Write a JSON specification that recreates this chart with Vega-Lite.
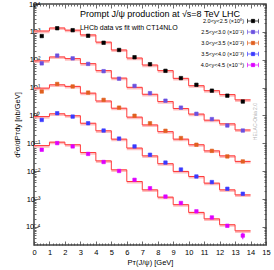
{
"$schema":"https://vega.github.io/schema/vega-lite/v6.json",
"width":232,"height":241,
"autosize":{"type":"none"},
"padding":{"left":34,"top":4,"right":8,"bottom":25},
"background":"white",
"config":{
 "view":{"stroke":"#444","strokeWidth":1.5},
 "font":"Liberation Sans",
 "axis":{"labelFont":"Liberation Sans","labelFontSize":7.5,"labelColor":"#000","titleFont":"Liberation Sans","titleFontSize":7.5,"titleFontWeight":"normal","titleColor":"#000","domain":false,"grid":false,"tickColor":"#444","tickWidth":0.8,"labelOverlap":false,"labelFlush":false,"labelBound":false},
 "legend":{"orient":"none","legendX":213,"legendY":11,"padding":0,"labelFont":"Liberation Sans","labelFontSize":5.5,"labelColor":"#000","labelAlign":"right","labelOffset":-15,"symbolType":"M-1,0H1M-1,-0.4V0.4M1,-0.4V0.4M-0.3,-0.3H0.3V0.3H-0.3Z","symbolSize":121,"symbolStrokeWidth":0.7,"rowPadding":1,"labelLimit":0}
},
"datasets":{
"fit":[
{"g":"A","x":0,"f":1072,"lo":900,"hi":1126},{"g":"A","x":1,"f":1380,"lo":1159,"hi":1449},{"g":"A","x":2,"f":1148,"lo":964,"hi":1205},{"g":"A","x":3,"f":776,"lo":652,"hi":815},{"g":"A","x":4,"f":427,"lo":359,"hi":448},{"g":"A","x":5,"f":224,"lo":188,"hi":235},{"g":"A","x":6,"f":115,"lo":96.6,"hi":121},{"g":"A","x":7,"f":64.6,"lo":54.3,"hi":67.8},{"g":"A","x":8,"f":40.7,"lo":34.2,"hi":42.7},{"g":"A","x":9,"f":21.4,"lo":18.0,"hi":22.5},{"g":"A","x":10,"f":11.7,"lo":9.83,"hi":12.3},{"g":"A","x":11,"f":7.76,"lo":6.52,"hi":8.15},{"g":"A","x":12,"f":5.62,"lo":4.72,"hi":5.9},{"g":"A","x":13,"f":3.63,"lo":3.05,"hi":3.81},{"g":"A","x":14,"f":3.63,"lo":3.05,"hi":3.81},
{"g":"B","x":0,"f":91.2,"lo":76.6,"hi":95.8},{"g":"B","x":1,"f":126,"lo":106,"hi":132},{"g":"B","x":2,"f":110,"lo":92.4,"hi":116},{"g":"B","x":3,"f":72.4,"lo":60.8,"hi":76.0},{"g":"B","x":4,"f":40.7,"lo":34.2,"hi":42.7},{"g":"B","x":5,"f":21.9,"lo":18.4,"hi":23.0},{"g":"B","x":6,"f":10.2,"lo":8.57,"hi":10.7},{"g":"B","x":7,"f":5.75,"lo":4.83,"hi":6.04},{"g":"B","x":8,"f":3.16,"lo":2.65,"hi":3.32},{"g":"B","x":9,"f":1.78,"lo":1.5,"hi":1.87},{"g":"B","x":10,"f":1.12,"lo":0.941,"hi":1.18},{"g":"B","x":11,"f":0.676,"lo":0.568,"hi":0.71},{"g":"B","x":12,"f":0.501,"lo":0.421,"hi":0.526},{"g":"B","x":13,"f":0.302,"lo":0.254,"hi":0.317},{"g":"B","x":14,"f":0.302,"lo":0.254,"hi":0.317},
{"g":"C","x":0,"f":9.55,"lo":8.02,"hi":10.0},{"g":"C","x":1,"f":12.6,"lo":10.6,"hi":13.2},{"g":"C","x":2,"f":11.0,"lo":9.24,"hi":11.6},{"g":"C","x":3,"f":6.31,"lo":5.3,"hi":6.63},{"g":"C","x":4,"f":3.31,"lo":2.78,"hi":3.48},{"g":"C","x":5,"f":1.82,"lo":1.53,"hi":1.91},{"g":"C","x":6,"f":0.871,"lo":0.732,"hi":0.915},{"g":"C","x":7,"f":0.457,"lo":0.384,"hi":0.48},{"g":"C","x":8,"f":0.263,"lo":0.221,"hi":0.276},{"g":"C","x":9,"f":0.141,"lo":0.118,"hi":0.148},{"g":"C","x":10,"f":0.0891,"lo":0.0748,"hi":0.0936},{"g":"C","x":11,"f":0.0537,"lo":0.0451,"hi":0.0564},{"g":"C","x":12,"f":0.0355,"lo":0.0298,"hi":0.0373},{"g":"C","x":13,"f":0.0224,"lo":0.0188,"hi":0.0235},{"g":"C","x":14,"f":0.0224,"lo":0.0188,"hi":0.0235},
{"g":"D","x":0,"f":0.912,"lo":0.766,"hi":0.958},{"g":"D","x":1,"f":1.15,"lo":0.966,"hi":1.21},{"g":"D","x":2,"f":0.977,"lo":0.821,"hi":1.03},{"g":"D","x":3,"f":0.525,"lo":0.441,"hi":0.551},{"g":"D","x":4,"f":0.282,"lo":0.237,"hi":0.296},{"g":"D","x":5,"f":0.141,"lo":0.118,"hi":0.148},{"g":"D","x":6,"f":0.0676,"lo":0.0568,"hi":0.071},{"g":"D","x":7,"f":0.0355,"lo":0.0298,"hi":0.0373},{"g":"D","x":8,"f":0.0186,"lo":0.0156,"hi":0.0195},{"g":"D","x":9,"f":0.00977,"lo":0.00821,"hi":0.0103},{"g":"D","x":10,"f":0.00646,"lo":0.00543,"hi":0.00678},{"g":"D","x":11,"f":0.00372,"lo":0.00312,"hi":0.00391},{"g":"D","x":12,"f":0.00214,"lo":0.0018,"hi":0.00225},{"g":"D","x":13,"f":0.00141,"lo":0.00118,"hi":0.00148},{"g":"D","x":14,"f":0.00141,"lo":0.00118,"hi":0.00148},
{"g":"E","x":0,"f":0.0832,"lo":0.0699,"hi":0.0874},{"g":"E","x":1,"f":0.11,"lo":0.0924,"hi":0.1155},{"g":"E","x":2,"f":0.0891,"lo":0.0748,"hi":0.0936},{"g":"E","x":3,"f":0.0468,"lo":0.0393,"hi":0.0491},{"g":"E","x":4,"f":0.0234,"lo":0.0197,"hi":0.0246},{"g":"E","x":5,"f":0.0112,"lo":0.00941,"hi":0.0118},{"g":"E","x":6,"f":0.00427,"lo":0.00359,"hi":0.00448},{"g":"E","x":7,"f":0.00214,"lo":0.0018,"hi":0.00225},{"g":"E","x":8,"f":0.00117,"lo":0.000983,"hi":0.00123},{"g":"E","x":9,"f":0.000631,"lo":0.00053,"hi":0.000663},{"g":"E","x":10,"f":0.000331,"lo":0.000278,"hi":0.000348},{"g":"E","x":11,"f":0.000195,"lo":0.000164,"hi":0.000205},{"g":"E","x":12,"f":0.00012,"lo":0.000101,"hi":0.000126},{"g":"E","x":13,"f":0.0000724,"lo":0.0000608,"hi":0.000076},{"g":"E","x":14,"f":0.0000724,"lo":0.0000608,"hi":0.000076}
],
"pts":[
{"s":"2.0<y<2.5 (×10⁰)","pt":0.5,"v":708},{"s":"2.0<y<2.5 (×10⁰)","pt":1.5,"v":1349},{"s":"2.0<y<2.5 (×10⁰)","pt":2.5,"v":1148},{"s":"2.0<y<2.5 (×10⁰)","pt":3.5,"v":724},{"s":"2.0<y<2.5 (×10⁰)","pt":4.5,"v":407},{"s":"2.0<y<2.5 (×10⁰)","pt":5.5,"v":224},{"s":"2.0<y<2.5 (×10⁰)","pt":6.5,"v":123},{"s":"2.0<y<2.5 (×10⁰)","pt":7.5,"v":69},{"s":"2.0<y<2.5 (×10⁰)","pt":8.5,"v":40},{"s":"2.0<y<2.5 (×10⁰)","pt":9.5,"v":21.9},{"s":"2.0<y<2.5 (×10⁰)","pt":10.5,"v":12.6},{"s":"2.0<y<2.5 (×10⁰)","pt":11.5,"v":7.76},{"s":"2.0<y<2.5 (×10⁰)","pt":12.5,"v":5.13},{"s":"2.0<y<2.5 (×10⁰)","pt":13.5,"v":3.16},
{"s":"2.5<y<3.0 (×10⁻¹)","pt":0.5,"v":74.1},{"s":"2.5<y<3.0 (×10⁻¹)","pt":1.5,"v":141},{"s":"2.5<y<3.0 (×10⁻¹)","pt":2.5,"v":112},{"s":"2.5<y<3.0 (×10⁻¹)","pt":3.5,"v":70.8},{"s":"2.5<y<3.0 (×10⁻¹)","pt":4.5,"v":38.9},{"s":"2.5<y<3.0 (×10⁻¹)","pt":5.5,"v":20.9},{"s":"2.5<y<3.0 (×10⁻¹)","pt":6.5,"v":11.5},{"s":"2.5<y<3.0 (×10⁻¹)","pt":7.5,"v":6.31},{"s":"2.5<y<3.0 (×10⁻¹)","pt":8.5,"v":3.39},{"s":"2.5<y<3.0 (×10⁻¹)","pt":9.5,"v":1.91},{"s":"2.5<y<3.0 (×10⁻¹)","pt":10.5,"v":1.15},{"s":"2.5<y<3.0 (×10⁻¹)","pt":11.5,"v":0.741},{"s":"2.5<y<3.0 (×10⁻¹)","pt":12.5,"v":0.437},{"s":"2.5<y<3.0 (×10⁻¹)","pt":13.5,"v":0.288},
{"s":"3.0<y<3.5 (×10⁻²)","pt":0.5,"v":7.24},{"s":"3.0<y<3.5 (×10⁻²)","pt":1.5,"v":13.5},{"s":"3.0<y<3.5 (×10⁻²)","pt":2.5,"v":11.0},{"s":"3.0<y<3.5 (×10⁻²)","pt":3.5,"v":6.61},{"s":"3.0<y<3.5 (×10⁻²)","pt":4.5,"v":3.63},{"s":"3.0<y<3.5 (×10⁻²)","pt":5.5,"v":1.91},{"s":"3.0<y<3.5 (×10⁻²)","pt":6.5,"v":0.977},{"s":"3.0<y<3.5 (×10⁻²)","pt":7.5,"v":0.525},{"s":"3.0<y<3.5 (×10⁻²)","pt":8.5,"v":0.282},{"s":"3.0<y<3.5 (×10⁻²)","pt":9.5,"v":0.155},{"s":"3.0<y<3.5 (×10⁻²)","pt":10.5,"v":0.0891},{"s":"3.0<y<3.5 (×10⁻²)","pt":11.5,"v":0.0537},{"s":"3.0<y<3.5 (×10⁻²)","pt":12.5,"v":0.0339},{"s":"3.0<y<3.5 (×10⁻²)","pt":13.5,"v":0.0224},
{"s":"3.5<y<4.0 (×10⁻³)","pt":0.5,"v":0.692},{"s":"3.5<y<4.0 (×10⁻³)","pt":1.5,"v":1.2},{"s":"3.5<y<4.0 (×10⁻³)","pt":2.5,"v":0.912},{"s":"3.5<y<4.0 (×10⁻³)","pt":3.5,"v":0.525},{"s":"3.5<y<4.0 (×10⁻³)","pt":4.5,"v":0.288},{"s":"3.5<y<4.0 (×10⁻³)","pt":5.5,"v":0.148},{"s":"3.5<y<4.0 (×10⁻³)","pt":6.5,"v":0.0776},{"s":"3.5<y<4.0 (×10⁻³)","pt":7.5,"v":0.0389},{"s":"3.5<y<4.0 (×10⁻³)","pt":8.5,"v":0.0204},{"s":"3.5<y<4.0 (×10⁻³)","pt":9.5,"v":0.0115},{"s":"3.5<y<4.0 (×10⁻³)","pt":10.5,"v":0.00646},{"s":"3.5<y<4.0 (×10⁻³)","pt":11.5,"v":0.00407},{"s":"3.5<y<4.0 (×10⁻³)","pt":12.5,"v":0.00234},{"s":"3.5<y<4.0 (×10⁻³)","pt":13.5,"v":0.00155},
{"s":"4.0<y<4.5 (×10⁻⁴)","pt":0.5,"v":0.0589},{"s":"4.0<y<4.5 (×10⁻⁴)","pt":1.5,"v":0.102},{"s":"4.0<y<4.5 (×10⁻⁴)","pt":2.5,"v":0.0776},{"s":"4.0<y<4.5 (×10⁻⁴)","pt":3.5,"v":0.0417},{"s":"4.0<y<4.5 (×10⁻⁴)","pt":4.5,"v":0.0214},{"s":"4.0<y<4.5 (×10⁻⁴)","pt":5.5,"v":0.0102},{"s":"4.0<y<4.5 (×10⁻⁴)","pt":6.5,"v":0.0049},{"s":"4.0<y<4.5 (×10⁻⁴)","pt":7.5,"v":0.00245},{"s":"4.0<y<4.5 (×10⁻⁴)","pt":8.5,"v":0.00123},{"s":"4.0<y<4.5 (×10⁻⁴)","pt":9.5,"v":0.000724},{"s":"4.0<y<4.5 (×10⁻⁴)","pt":10.5,"v":0.000363},{"s":"4.0<y<4.5 (×10⁻⁴)","pt":11.5,"v":0.000219},{"s":"4.0<y<4.5 (×10⁻⁴)","pt":12.5,"v":0.00011},{"s":"4.0<y<4.5 (×10⁻⁴)","pt":13.5,"v":0.000049,"elo":0.000036,"ehi":0.000062}
]
},
"layer":[
{"data":{"name":"fit"},
 "mark":{"type":"area","interpolate":"step-after","color":"#ffb8b8","opacity":0.9},
 "encoding":{
  "detail":{"field":"g"},
  "x":{"field":"x","type":"quantitative","scale":{"domain":[0,15],"nice":false,"zero":false},
   "axis":{"orient":"bottom","title":"Pᴛ(J/ψ) [GeV]","titlePadding":1,"labelPadding":7,
    "values":[0,0.2,0.4,0.6,0.8,1,1.2,1.4,1.6,1.8,2,2.2,2.4,2.6,2.8,3,3.2,3.4,3.6,3.8,4,4.2,4.4,4.6,4.8,5,5.2,5.4,5.6,5.8,6,6.2,6.4,6.6,6.8,7,7.2,7.4,7.6,7.8,8,8.2,8.4,8.6,8.8,9,9.2,9.4,9.6,9.8,10,10.2,10.4,10.6,10.8,11,11.2,11.4,11.6,11.8,12,12.2,12.4,12.6,12.8,13,13.2,13.4,13.6,13.8,14,14.2,14.4,14.6,14.8,15],
    "labelExpr":"datum.value % 1 == 0 ? format(datum.value, 'd') : ''",
    "tickSize":{"condition":{"test":"datum.value % 1 == 0","value":-4},"value":-2}}},
  "y":{"field":"lo","type":"quantitative","scale":{"type":"log","domain":[0.0000225,10000],"nice":false},
   "axis":{"orient":"left","title":"d²σ/dPᴛdy [nb/GeV]","titlePadding":4,"labelPadding":-2,
    "values":[0.00003,0.00004,0.00005,0.00006,0.00007,0.00008,0.00009,0.0001,0.0002,0.0003,0.0004,0.0005,0.0006,0.0007,0.0008,0.0009,0.001,0.002,0.003,0.004,0.005,0.006,0.007,0.008,0.009,0.01,0.02,0.03,0.04,0.05,0.06,0.07,0.08,0.09,0.1,0.2,0.3,0.4,0.5,0.6,0.7,0.8,0.9,1,2,3,4,5,6,7,8,9,10,20,30,40,50,60,70,80,90,100,200,300,400,500,600,700,800,900,1000,2000,3000,4000,5000,6000,7000,8000,9000,10000],
    "labelExpr":"abs(log(datum.value)/LN10 - round(log(datum.value)/LN10)) < 0.001 ? ['10⁻⁴','10⁻³','10⁻²','10⁻¹','10⁰','10¹','10²','10³','10⁴'][round(log(datum.value)/LN10)+4] : ''",
    "tickSize":{"condition":{"test":"abs(log(datum.value)/LN10 - round(log(datum.value)/LN10)) < 0.001","value":-4},"value":-2}}},
  "y2":{"field":"hi"}
 }},
{"data":{"name":"fit"},
 "mark":{"type":"line","interpolate":"step-after","color":"#ff3c3c","strokeWidth":1},
 "encoding":{
  "detail":{"field":"g"},
  "x":{"field":"x","type":"quantitative","scale":{"domain":[0,15],"nice":false,"zero":false},
   "axis":{"orient":"top","title":null,"labels":false,
    "values":[0,0.2,0.4,0.6,0.8,1,1.2,1.4,1.6,1.8,2,2.2,2.4,2.6,2.8,3,3.2,3.4,3.6,3.8,4,4.2,4.4,4.6,4.8,5,5.2,5.4,5.6,5.8,6,6.2,6.4,6.6,6.8,7,7.2,7.4,7.6,7.8,8,8.2,8.4,8.6,8.8,9,9.2,9.4,9.6,9.8,10,10.2,10.4,10.6,10.8,11,11.2,11.4,11.6,11.8,12,12.2,12.4,12.6,12.8,13,13.2,13.4,13.6,13.8,14,14.2,14.4,14.6,14.8,15],
    "tickSize":{"condition":{"test":"datum.value % 1 == 0","value":-4},"value":-2}}},
  "y":{"field":"f","type":"quantitative","scale":{"type":"log","domain":[0.0000225,10000],"nice":false},
   "axis":{"orient":"right","title":null,"labels":false,
    "values":[0.00003,0.00004,0.00005,0.00006,0.00007,0.00008,0.00009,0.0001,0.0002,0.0003,0.0004,0.0005,0.0006,0.0007,0.0008,0.0009,0.001,0.002,0.003,0.004,0.005,0.006,0.007,0.008,0.009,0.01,0.02,0.03,0.04,0.05,0.06,0.07,0.08,0.09,0.1,0.2,0.3,0.4,0.5,0.6,0.7,0.8,0.9,1,2,3,4,5,6,7,8,9,10,20,30,40,50,60,70,80,90,100,200,300,400,500,600,700,800,900,1000,2000,3000,4000,5000,6000,7000,8000,9000,10000],
    "tickSize":{"condition":{"test":"abs(log(datum.value)/LN10 - round(log(datum.value)/LN10)) < 0.001","value":-4},"value":-2}}}
 }},
{"data":{"name":"pts"},
 "transform":[{"filter":"isValid(datum.elo)"}],
 "mark":{"type":"rule","color":"#dd00ff","strokeWidth":1},
 "encoding":{
  "x":{"field":"pt","type":"quantitative","scale":{"domain":[0,15],"nice":false,"zero":false},"axis":null},
  "y":{"field":"elo","type":"quantitative","scale":{"type":"log","domain":[0.0000225,10000],"nice":false},"axis":null},
  "y2":{"field":"ehi"}
 }},
{"data":{"name":"pts"},
 "mark":{"type":"point","shape":"square","size":12,"strokeWidth":0.6,"opacity":1,"filled":true},
 "encoding":{
  "x":{"field":"pt","type":"quantitative","scale":{"domain":[0,15],"nice":false,"zero":false},"axis":null},
  "y":{"field":"v","type":"quantitative","scale":{"type":"log","domain":[0.0000225,10000],"nice":false},"axis":null},
  "fill":{"field":"s","type":"nominal","sort":null,"scale":{"domain":["2.0<y<2.5 (×10⁰)","2.5<y<3.0 (×10⁻¹)","3.0<y<3.5 (×10⁻²)","3.5<y<4.0 (×10⁻³)","4.0<y<4.5 (×10⁻⁴)"],"range":["#000000","#6a50e0","#e06020","#3a3aff","#dd00ff"]},"legend":{"title":null}},
  "stroke":{"field":"s","type":"nominal","sort":null,"scale":{"domain":["2.0<y<2.5 (×10⁰)","2.5<y<3.0 (×10⁻¹)","3.0<y<3.5 (×10⁻²)","3.5<y<4.0 (×10⁻³)","4.0<y<4.5 (×10⁻⁴)"],"range":["#000000","#6a50e0","#e06020","#3a3aff","#dd00ff"]},"legend":{"title":null}}
 }},
{"data":{"values":[{"t":"HELAC-Onia 2.0","x":14.45,"y":0.13,"sz":5,"c":"g"},{"t":"Prompt J/ψ production at √s=8 TeV LHC","x":2.97,"y":3400,"sz":9,"c":"k"},{"t":"LHCb data vs fit with CT14NLO","x":2.97,"y":1170,"sz":7,"c":"k"}]},
 "mark":{"type":"text","align":"left","baseline":"alphabetic","font":"Liberation Sans"},
 "encoding":{
  "text":{"field":"t"},
  "angle":{"condition":{"test":"datum.c == 'g'","value":270},"value":0},
  "x":{"field":"x","type":"quantitative","scale":{"domain":[0,15],"nice":false,"zero":false},"axis":null},
  "y":{"field":"y","type":"quantitative","scale":{"type":"log","domain":[0.0000225,10000],"nice":false},"axis":null},
  "size":{"field":"sz","type":"quantitative","scale":null,"legend":null},
  "color":{"field":"c","type":"nominal","scale":{"domain":["g","k"],"range":["#b4b4b4","#000000"]},"legend":null}
 }}
],
"resolve":{"axis":{"x":"independent","y":"independent"}}
}
